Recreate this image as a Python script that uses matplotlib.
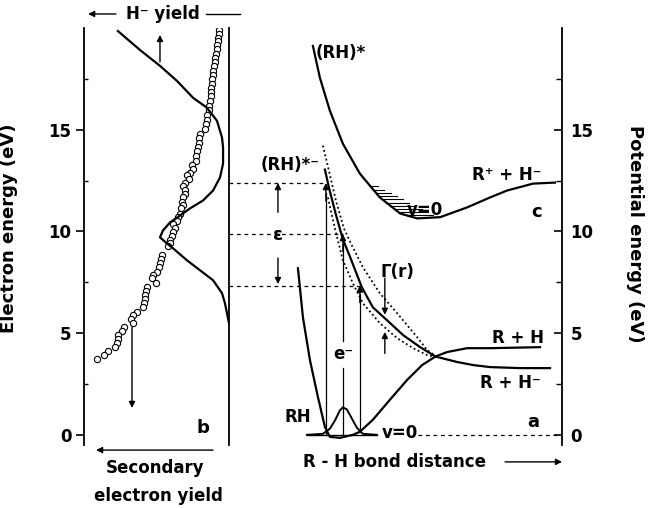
import numpy as np
import matplotlib.pyplot as plt

plt.rcParams['font.family'] = ['DejaVu Sans']
plt.rcParams['font.size'] = 12
plt.rcParams['font.weight'] = 'bold'

# ---- panel b: yields vs electron energy (yield grows to the left) ----
se_yield = [0.069, 0.069, 0.076, 0.076, 0.083, 0.083, 0.090, 0.097, 0.097, 0.103,
            0.110, 0.110, 0.117, 0.117, 0.124, 0.124, 0.124, 0.131, 0.138, 0.138,
            0.152, 0.152, 0.159, 0.166, 0.200, 0.207, 0.207, 0.214, 0.221, 0.228,
            0.228, 0.255, 0.248, 0.269, 0.290, 0.276, 0.303, 0.317, 0.303, 0.303,
            0.317, 0.324, 0.317, 0.331, 0.338, 0.352, 0.359, 0.386, 0.372, 0.386,
            0.393, 0.407, 0.407, 0.421, 0.462, 0.469, 0.476, 0.483, 0.497, 0.524,
            0.531, 0.503, 0.566, 0.572, 0.579, 0.579, 0.586, 0.593, 0.634, 0.662,
            0.676, 0.662, 0.724, 0.738, 0.766, 0.766, 0.772, 0.786, 0.834, 0.862,
            0.910]
se_energy = [19.90, 19.71, 19.51, 19.36, 19.17, 18.97, 18.73, 18.53, 18.33, 18.14,
             17.89, 17.70, 17.50, 17.25, 17.06, 16.86, 16.67, 16.42, 16.18, 15.98,
             15.74, 15.49, 15.29, 15.05, 14.80, 14.61, 14.36, 14.17, 13.97, 13.73,
             13.48, 13.28, 13.09, 12.89, 12.75, 12.60, 12.40, 12.25, 12.06, 11.86,
             11.67, 11.47, 11.32, 11.13, 10.88, 10.69, 10.49, 10.34, 10.15, 9.95,
             9.75, 9.56, 9.41, 9.26, 8.82, 8.63, 8.43, 8.24, 7.99, 7.84,
             7.70, 7.45, 7.25, 7.06, 6.86, 6.67, 6.47, 6.27, 6.03, 5.88,
             5.69, 5.49, 5.29, 5.10, 4.90, 4.71, 4.51, 4.31, 4.12, 3.92,
             3.73]

hm_yield = [0.766, 0.614, 0.476, 0.359, 0.248, 0.152, 0.083, 0.048, 0.041, 0.041,
            0.062, 0.110, 0.179, 0.269, 0.338, 0.407, 0.455, 0.476, 0.428, 0.386,
            0.290, 0.200, 0.110, 0.048, 0.028, 0.014, 0.0]
hm_energy = [19.85, 18.92, 18.14, 17.40, 16.57, 16.08, 15.44, 14.61, 14.12, 13.33,
             12.65, 12.01, 11.52, 11.13, 10.78, 10.44, 10.05, 9.71, 9.41, 9.17,
             8.58, 8.09, 7.60, 6.96, 6.47, 5.98, 5.49]

# ---- panels a and c: potential curves vs R-H distance (arb. units) ----
rh_r = [2.07, 2.22, 2.43, 2.67, 2.88, 3.03, 3.33, 3.72, 3.93, 4.32, 4.83, 5.35,
        5.80, 6.20, 6.55, 7.15, 7.84, 9.34]
rh_e = [8.19, 5.78, 3.68, 1.86, 0.39, -0.10, -0.15, 0.0, 0.15, 0.74, 1.72, 2.70,
        3.43, 3.85, 4.07, 4.26, 4.26, 4.31]

anion_r = [2.88, 3.00, 3.21, 3.42, 3.63, 3.99, 4.32, 4.74, 5.23, 5.74, 6.20, 6.85,
           7.33, 7.84, 8.74, 9.64]
anion_e = [13.04, 12.16, 10.83, 9.61, 8.77, 7.25, 6.27, 5.64, 4.90, 4.31, 3.85,
           3.58, 3.43, 3.33, 3.28, 3.28]

gam_hi_r = [2.82, 3.00, 3.21, 3.45, 3.69, 4.02, 4.53, 5.05, 5.65, 5.95, 6.25]
gam_hi_e = [14.22, 12.99, 11.52, 10.15, 9.31, 8.24, 6.96, 5.98, 4.80, 4.17, 3.82]
gam_lo_r = [2.97, 3.18, 3.42, 3.72, 4.02, 4.53, 5.05, 5.53, 5.95, 6.25]
gam_lo_e = [11.67, 10.15, 8.58, 7.45, 6.47, 5.49, 4.75, 4.26, 3.92, 3.82]

cat_r = [2.52, 2.73, 3.03, 3.42, 3.93, 4.53, 5.14, 5.65, 6.34, 7.15, 7.84, 8.35,
         9.13, 9.79]
cat_e = [19.12, 17.55, 15.93, 14.31, 12.84, 11.67, 10.88, 10.64, 10.70, 11.18,
         11.67, 12.01, 12.35, 12.40]

psi_r = [2.34, 2.82, 3.03, 3.18, 3.33, 3.42, 3.54, 3.69, 3.84, 4.02, 4.44]
psi_e = [0.0, 0.05, 0.30, 0.70, 1.20, 1.35, 1.25, 0.80, 0.35, 0.05, 0.0]

trans_r = [2.91, 3.42, 3.93]
trans_top = [12.38, 9.87, 7.34]

hatch_e = [12.22, 12.06, 11.90, 11.74, 11.58, 11.42, 11.26, 11.10, 10.94, 10.80]

fig = plt.figure(figsize=(6.48, 5.08), dpi=100)
ax_b = fig.add_axes([84 / 648, 63 / 508, 145 / 648, 417 / 508])
ax_a = fig.add_axes([229 / 648, 63 / 508, 333 / 648, 417 / 508])
ax_a.patch.set_visible(False)


def arrow(ax, x0, y0, x1, y1, lw=1.0):
    ax.annotate('', xy=(x1, y1), xytext=(x0, y0), annotation_clip=False,
                arrowprops=dict(arrowstyle='-|>', color='k', lw=lw,
                                mutation_scale=9, shrinkA=0, shrinkB=0))


# panel b
ax_b.plot(se_yield, se_energy, 'o', ms=4.5, mfc='white', mec='black', mew=0.8)
ax_b.plot(hm_yield, hm_energy, color='black', lw=1.6)
ax_b.set_xlim(1, 0)
ax_b.set_ylim(-0.5, 20)
for s in ['top', 'bottom']:
    ax_b.spines[s].set_visible(False)
ax_b.spines['left'].set_linewidth(1.3)
ax_b.spines['right'].set_linewidth(1.3)
ax_b.set_xticks([])
ax_b.set_yticks([0, 5, 10, 15])
ax_b.set_yticks([2.5, 7.5, 12.5, 17.5], minor=True)
ax_b.tick_params(axis='y', which='major', direction='out', length=6, width=1.2, pad=3, labelsize=12)
ax_b.tick_params(axis='y', which='minor', direction='in', length=3, width=1)

arrow(ax_b, 0.476, 18.33, 0.476, 19.66)
arrow(ax_b, 0.669, 5.30, 0.669, 1.32)
ax_b.text(0.179, 0.33, 'b', fontsize=13, ha='center', va='center')
arrow(ax_b, 0.78, 20.69, 0.972, 20.69)
ax_b.text(0.455, 20.69, 'H⁻ yield', fontsize=12, ha='center', va='center')
ax_b.plot([0.16, -0.076], [20.69, 20.69], color='black', lw=1.0, clip_on=False)
arrow(ax_b, 0.11, -0.75, 0.917, -0.75)
ax_b.text(0.51, -1.63, 'Secondary', fontsize=12, ha='center', va='center')
ax_b.text(0.49, -3.0, 'electron yield', fontsize=12, ha='center', va='center')

# panels a and c
ax_a.plot(cat_r, cat_e, color='black', lw=1.6)
ax_a.plot(rh_r, rh_e, color='black', lw=1.6)
ax_a.plot(anion_r, anion_e, color='black', lw=1.6)
ax_a.plot(gam_hi_r, gam_hi_e, color='black', lw=1.3, ls=(0, (1, 1.5)))
ax_a.plot(gam_lo_r, gam_lo_e, color='black', lw=1.3, ls=(0, (1, 1.5)))
ax_a.plot(psi_r, psi_e, color='black', lw=1.4)
ax_a.plot([psi_r[0], psi_r[-1]], [0, 0], color='black', lw=1.0)
ax_a.plot([5.68, 10], [0, 0], color='black', lw=0.9, ls=(0, (3, 3)))

# hatched v=0 level of the cation
imin = int(np.argmin(cat_e))
wall_r = np.array(cat_r[:imin + 1])[::-1]
wall_e = np.array(cat_e[:imin + 1])[::-1]
for e in hatch_e:
    r_left = np.interp(e, wall_e, wall_r)
    r_right = 4.47 + (12.23 - e) / (12.23 - 10.8) * (6.13 - 4.47)
    ax_a.plot([r_left, r_right], [e, e], color='black', lw=0.8)

# vertical transitions and energy levels
for r, top in zip(trans_r, trans_top):
    ax_a.plot([0, r], [top, top], color='black', lw=0.9, ls=(0, (3, 3)))
ax_a.plot([trans_r[0], trans_r[0]], [0, 11.9], color='black', lw=0.9)
arrow(ax_a, trans_r[0], 11.5, trans_r[0], trans_top[0])
ax_a.plot([trans_r[1], trans_r[1]], [0, 3.3], color='black', lw=0.9)
ax_a.plot([trans_r[1], trans_r[1]], [4.6, 9.4], color='black', lw=0.9)
arrow(ax_a, trans_r[1], 9.0, trans_r[1], trans_top[1])
ax_a.plot([trans_r[2], trans_r[2]], [0.15, 6.9], color='black', lw=0.9)
arrow(ax_a, trans_r[2], 6.5, trans_r[2], trans_top[2])

arrow(ax_a, 1.47, 10.94, 1.47, 12.38)
arrow(ax_a, 1.47, 8.69, 1.47, 7.41)
ax_a.text(1.47, 9.8, 'ε', fontsize=13, ha='center', va='center')
arrow(ax_a, 4.68, 7.7, 4.68, 5.9)
arrow(ax_a, 4.68, 4.0, 4.68, 5.06)
ax_a.text(4.55, 8.0, 'Γ(r)', fontsize=12, ha='left', va='center')

ax_a.text(0.95, 13.26, '(RH)*⁻', fontsize=12, ha='left', va='center')
ax_a.text(2.6, 18.77, '(RH)*', fontsize=12, ha='left', va='center')
ax_a.text(8.35, 12.78, 'R⁺ + H⁻', fontsize=12, ha='center', va='center')
ax_a.text(5.89, 11.05, 'v=0', fontsize=12, ha='center', va='center')
ax_a.text(9.25, 10.95, 'c', fontsize=13, ha='center', va='center')
ax_a.text(3.42, 3.95, 'e⁻', fontsize=12, ha='center', va='center')
ax_a.text(2.07, 0.87, 'RH', fontsize=12, ha='center', va='center')
ax_a.text(5.14, 0.1, 'v=0', fontsize=12, ha='center', va='center')
ax_a.text(8.68, 4.76, 'R + H', fontsize=12, ha='center', va='center')
ax_a.text(8.44, 2.55, 'R + H⁻', fontsize=12, ha='center', va='center')
ax_a.text(9.13, 0.63, 'a', fontsize=13, ha='center', va='center')

ax_a.text(2.22, -1.33, 'R - H bond distance', fontsize=12, ha='left', va='center')
arrow(ax_a, 8.29, -1.33, 10.0, -1.33)

ax_a.set_xlim(0, 10)
ax_a.set_ylim(-0.5, 20)
for s in ['top', 'bottom', 'left']:
    ax_a.spines[s].set_visible(False)
ax_a.spines['right'].set_linewidth(1.3)
ax_a.set_xticks([])
ax_a.yaxis.tick_right()
ax_a.set_yticks([0, 5, 10, 15])
ax_a.set_yticks([2.5, 7.5, 12.5, 17.5], minor=True)
ax_a.tick_params(axis='y', which='major', direction='in', length=6, width=1.2, pad=6, labelsize=12)
ax_a.tick_params(axis='y', which='minor', direction='in', length=4, width=1)

fig.text(9 / 648, 1 - 228 / 508, 'Electron energy (eV)', fontsize=13,
         rotation=90, ha='center', va='center')
fig.text(635 / 648, 1 - 234 / 508, 'Potential energy (eV)', fontsize=13,
         rotation=-90, ha='center', va='center')

fig.savefig('out.png', dpi=100)
